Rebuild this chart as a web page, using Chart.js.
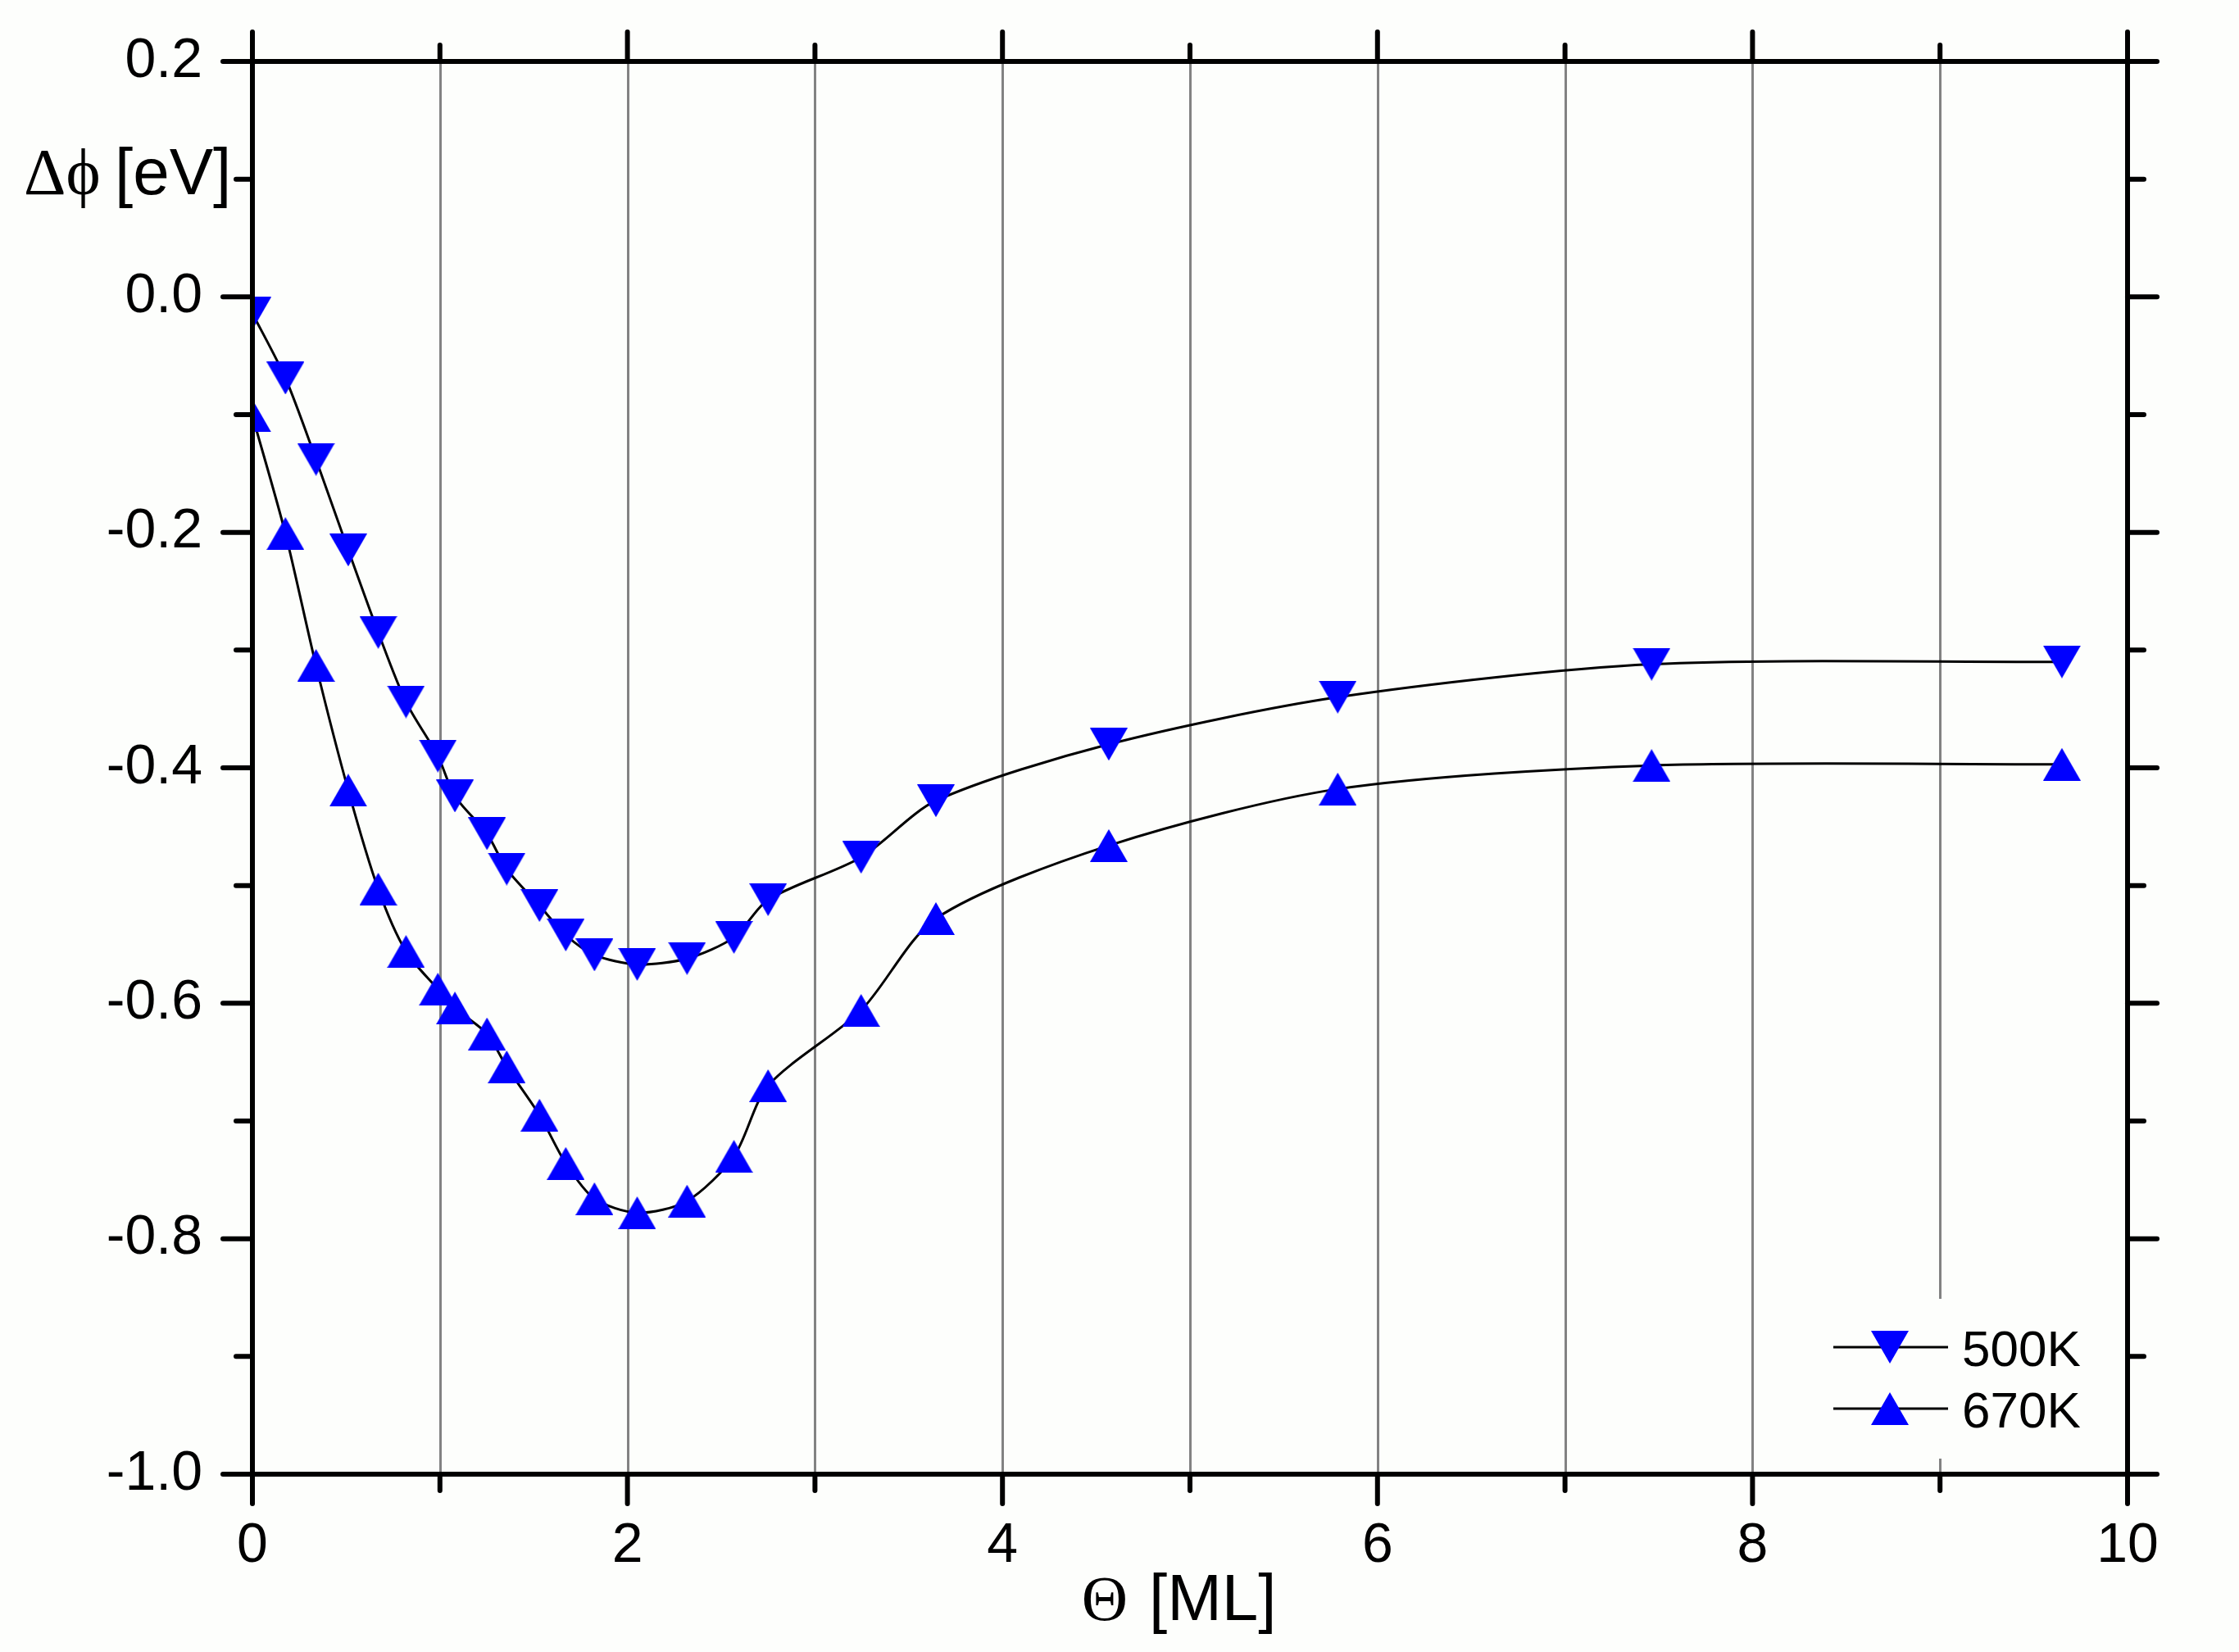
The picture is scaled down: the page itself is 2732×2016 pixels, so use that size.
<!DOCTYPE html>
<html><head><meta charset="utf-8">
<script src="https://cdn.jsdelivr.net/npm/chart.js@4.4.1/dist/chart.umd.min.js"></script>
<style>html,body{margin:0;padding:0;background:#fdfefc;} canvas{display:block;}</style>
</head><body>
<canvas id="c" width="2732" height="2016"></canvas>
<script>
// ---- data ----
const thetaML   = [0, 0.176, 0.339, 0.511, 0.671, 0.819, 0.989, 1.08, 1.251, 1.356, 1.531, 1.671, 1.824, 2.052, 2.318, 2.568, 2.75, 3.246, 3.645, 4.567, 5.788, 7.462, 9.65];
const dphi500K  = [-0.014, -0.069, -0.138, -0.215, -0.285, -0.344, -0.390, -0.424, -0.456, -0.486, -0.517, -0.542, -0.559, -0.567, -0.562, -0.544, -0.512, -0.476, -0.428, -0.380, -0.340, -0.312, -0.310];
const dphi670K  = [-0.101, -0.201, -0.313, -0.419, -0.503, -0.556, -0.588, -0.604, -0.626, -0.654, -0.695, -0.736, -0.766, -0.778, -0.768, -0.730, -0.670, -0.606, -0.528, -0.466, -0.418, -0.398, -0.397];
const seriesLabels = ['500K', '670K'];
const xMajorTicks = [0, 2, 4, 6, 8, 10];
const xMinorTicks = [1, 3, 5, 7, 9];
const yMajorTicks = [0.2, 0.0, -0.2, -0.4, -0.6, -0.8, -1.0];
const yMinorTicks = [0.1, -0.1, -0.3, -0.5, -0.7, -0.9];
const xGridValues = [1, 2, 3, 4, 5, 6, 7, 8, 9];
const xTitleParts = ['Θ', '[ML]'];
const yTitleParts = ['Δϕ', '[eV]'];

const SANS = "'Liberation Sans', Arial, sans-serif";
const SERIF = "'Liberation Serif', 'DejaVu Serif', serif";
const BLUE = '#0000ff';

function makeTri(up) {
  const c = document.createElement('canvas');
  c.width = 46; c.height = 40;
  const g = c.getContext('2d');
  g.fillStyle = BLUE;
  g.beginPath();
  if (up) { g.moveTo(23, 0); g.lineTo(46, 40); g.lineTo(0, 40); }
  else { g.moveTo(0, 0); g.lineTo(46, 0); g.lineTo(23, 40); }
  g.closePath(); g.fill();
  return c;
}
const triDown = makeTri(false);
const triUp = makeTri(true);

const toXY = ys => thetaML.map((x, i) => ({x, y: ys[i]}));
const zeroPad = s => { s.paddingTop = 0; s.paddingBottom = 0; s.paddingLeft = 0; s.paddingRight = 0; };

const bgPlugin = {
  id: 'bg',
  beforeDraw(chart) {
    const ctx = chart.ctx;
    ctx.save(); ctx.fillStyle = '#fdfefc'; ctx.fillRect(0, 0, chart.width, chart.height); ctx.restore();
  },
  beforeDatasetsDraw(chart) {
    const {ctx, chartArea: a, scales: {x}} = chart;
    ctx.save();
    ctx.strokeStyle = '#828282'; ctx.lineWidth = 3;
    xGridValues.forEach(v => {
      const px = Math.round(x.getPixelForValue(v)) + 0.5;
      ctx.beginPath(); ctx.moveTo(px, a.top); ctx.lineTo(px, a.bottom); ctx.stroke();
    });
    ctx.restore();
  }
};

const framePlugin = {
  id: 'frame',
  afterDatasetsDraw(chart) {
    const {ctx, chartArea: a, scales: {x, y}} = chart;
    ctx.save();
    // legend
    const lg = [{img: triDown, label: chart.data.datasets[0].label, yy: 1644},
                {img: triUp, label: chart.data.datasets[1].label, yy: 1719}];
    ctx.fillStyle = '#fdfefc';
    ctx.fillRect(2200, 1585, 380, 195);
    lg.forEach(e => {
      ctx.strokeStyle = '#000'; ctx.lineWidth = 3;
      ctx.beginPath(); ctx.moveTo(2237, e.yy); ctx.lineTo(2377, e.yy); ctx.stroke();
      ctx.drawImage(e.img, 2306 - 23, e.yy - 20);
      ctx.fillStyle = '#000'; ctx.font = '62px ' + SANS;
      ctx.textAlign = 'left'; ctx.textBaseline = 'alphabetic';
      ctx.fillText(e.label, 2394, e.yy + 23);
    });
    // ticks
    ctx.strokeStyle = '#000'; ctx.lineWidth = 6; ctx.lineCap = 'round';
    const line = (x1, y1, x2, y2) => { ctx.beginPath(); ctx.moveTo(x1, y1); ctx.lineTo(x2, y2); ctx.stroke(); };
    const MAJ = 36, MIN = 20;
    xMajorTicks.forEach(v => { const p = x.getPixelForValue(v); line(p, a.bottom, p, a.bottom + MAJ); line(p, a.top, p, a.top - MAJ); });
    xMinorTicks.forEach(v => { const p = x.getPixelForValue(v); line(p, a.bottom, p, a.bottom + MIN); line(p, a.top, p, a.top - MIN); });
    yMajorTicks.forEach(v => { const p = y.getPixelForValue(v); line(a.left, p, a.left - MAJ, p); line(a.right, p, a.right + MAJ, p); });
    yMinorTicks.forEach(v => { const p = y.getPixelForValue(v); line(a.left, p, a.left - MIN, p); line(a.right, p, a.right + MIN, p); });
    // frame
    ctx.lineCap = 'butt';
    ctx.strokeRect(a.left, a.top, a.right - a.left, a.bottom - a.top);
    // axis titles
    ctx.fillStyle = '#000'; ctx.textBaseline = 'alphabetic';
    ctx.font = '80px ' + SERIF; ctx.textAlign = 'left';
    ctx.fillText(yTitleParts[0], 29, 237);
    ctx.font = '80px ' + SANS;
    ctx.fillText(yTitleParts[1], 140, 237);
    ctx.font = '78px ' + SERIF; ctx.textAlign = 'right';
    ctx.fillText(xTitleParts[0], 1376, 1977);
    ctx.font = '80px ' + SANS; ctx.textAlign = 'left';
    ctx.fillText(xTitleParts[1], 1402, 1977);
    ctx.restore();
  }
};

new Chart(document.getElementById('c'), {
  type: 'line',
  data: {
    datasets: [
      {label: seriesLabels[0], data: toXY(dphi500K), borderColor: '#000', borderWidth: 3,
       pointStyle: triDown, pointRadius: 23, tension: 0.28, fill: false},
      {label: seriesLabels[1], data: toXY(dphi670K), borderColor: '#000', borderWidth: 3,
       pointStyle: triUp, pointRadius: 23, tension: 0.28, fill: false}
    ]
  },
  options: {
    responsive: false, animation: false, devicePixelRatio: 1,
    layout: {padding: {left: 0, top: 75, right: 136, bottom: 0}},
    plugins: {legend: {display: false}, tooltip: {enabled: false}},
    scales: {
      x: {type: 'linear', min: 0, max: 10,
          afterBuildTicks: s => { s.ticks = xMajorTicks.map(v => ({value: v})); },
          afterFit: s => { s.height = 217; zeroPad(s); },
          grid: {display: false, drawTicks: false}, border: {display: false},
          ticks: {font: {family: SANS, size: 68}, color: '#000', padding: 47, maxRotation: 0,
                  callback: v => String(v)}},
      y: {type: 'linear', min: -1.0, max: 0.2,
          afterBuildTicks: s => { s.ticks = yMajorTicks.map(v => ({value: v})); },
          afterFit: s => { s.width = 308; zeroPad(s); },
          grid: {display: false, drawTicks: false}, border: {display: false},
          ticks: {font: {family: SANS, size: 68}, color: '#000', padding: 61,
                  callback: v => (Math.abs(v) < 1e-9 ? 0 : v).toFixed(1)}}
    }
  },
  plugins: [bgPlugin, framePlugin]
});
</script>
</body></html>
